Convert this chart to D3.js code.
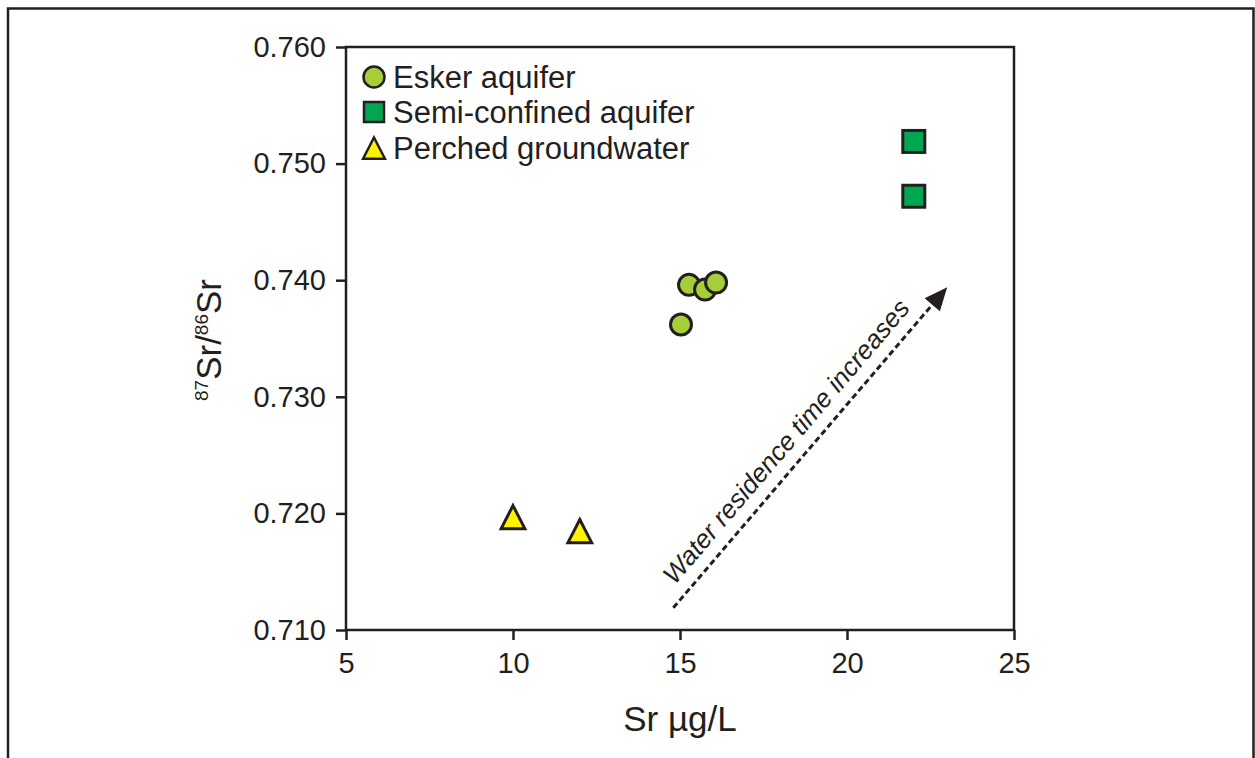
<!DOCTYPE html>
<html>
<head>
<meta charset="utf-8">
<script src="https://cdn.jsdelivr.net/npm/d3@7"></script>
<style>
  body { margin: 0; background: #fff; }
  text { font-family: Arial, "Liberation Sans", sans-serif; fill: #231f20; }
</style>
</head>
<body>
<svg id="chart" width="1255" height="758"></svg>
<script>
// data
var eskerSr = [15.03, 15.27, 15.75, 16.08];
var eskerRatio = [0.7362, 0.7396, 0.7392, 0.7398];
var semiSr = [22.0, 22.0];
var semiRatio = [0.7519, 0.7472];
var perchedSr = [10.0, 12.0];
var perchedRatio = [0.7196, 0.7184];

var xTicks = [5, 10, 15, 20, 25];
var yTicks = [0.710, 0.720, 0.730, 0.740, 0.750, 0.760];
var legendLabels = ['Esker aquifer', 'Semi-confined aquifer', 'Perched groundwater'];
// arrow from/to, in data units
var arrowFrom = [14.8, 0.7119];
var arrowTo = [23.0, 0.7394];

var ink = '#231f20';
var svg = d3.select('#chart');

// outer frame (open at the bottom)
svg.append('path')
  .attr('d', 'M8,758 V8.5 H1253.5 V758')
  .attr('fill', 'none').attr('stroke', ink).attr('stroke-width', 2.5);

var pLeft = 346, pRight = 1014, pTop = 47, pBottom = 630;
var x = d3.scaleLinear().domain([5, 25]).range([pLeft, pRight]);
var y = d3.scaleLinear().domain([0.710, 0.760]).range([pBottom, pTop]);

var g = svg.append('g');

// plot box
g.append('rect')
  .attr('x', pLeft).attr('y', pTop)
  .attr('width', pRight - pLeft).attr('height', pBottom - pTop)
  .attr('fill', 'none').attr('stroke', ink).attr('stroke-width', 2.5);

var xAxis = g.append('g')
  .attr('transform', 'translate(0,' + pBottom + ')')
  .call(d3.axisBottom(x).tickValues(xTicks).tickSize(10).tickPadding(12).tickFormat(d3.format('d')));
var yAxis = g.append('g')
  .attr('transform', 'translate(' + pLeft + ',0)')
  .call(d3.axisLeft(y).tickValues(yTicks).tickSize(10).tickPadding(10).tickFormat(d3.format('.3f')));

[xAxis, yAxis].forEach(function (a) {
  a.attr('font-size', null).attr('font-family', null);
  a.select('.domain').remove();
  a.selectAll('line').attr('stroke', ink).attr('stroke-width', 2.5);
  a.selectAll('text').style('font-size', '29px').attr('fill', ink);
});

// axis titles
g.append('text')
  .attr('x', (pLeft + pRight) / 2).attr('y', 731)
  .attr('text-anchor', 'middle').style('font-size', '35px')
  .text('Sr µg/L');

var yt = g.append('text')
  .attr('transform', 'translate(221,340) rotate(-90)')
  .attr('text-anchor', 'middle').style('font-size', '35px');
yt.append('tspan').attr('dy', '-13').style('font-size', '19px').text('87');
yt.append('tspan').attr('dy', '13').text('Sr/');
yt.append('tspan').attr('dy', '-13').style('font-size', '19px').text('86');
yt.append('tspan').attr('dy', '13').text('Sr');

// arrow
var ax1 = x(arrowFrom[0]), ay1 = y(arrowFrom[1]);
var ax2 = x(arrowTo[0]), ay2 = y(arrowTo[1]);
var ang = Math.atan2(ay2 - ay1, ax2 - ax1);
g.append('line')
  .attr('x1', ax1).attr('y1', ay1)
  .attr('x2', ax2 - 14 * Math.cos(ang)).attr('y2', ay2 - 14 * Math.sin(ang))
  .attr('stroke', ink).attr('stroke-width', 3).attr('stroke-dasharray', '6,3.5');
g.append('path')
  .attr('d', function () {
    var len = 23, half = 10;
    var bx = ax2 - len * Math.cos(ang), by = ay2 - len * Math.sin(ang);
    var px = -Math.sin(ang) * half, py = Math.cos(ang) * half;
    return 'M' + ax2 + ',' + ay2 + 'L' + (bx + px) + ',' + (by + py) + 'L' + (bx - px) + ',' + (by - py) + 'Z';
  })
  .attr('fill', ink);

var angDeg = ang * 180 / Math.PI;
var mx = (ax1 + ax2) / 2, my = (ay1 + ay2) / 2;
g.append('text')
  .attr('transform', 'translate(' + (mx - 16) + ',' + (my + 1) + ') rotate(' + angDeg + ')')
  .attr('text-anchor', 'middle')
  .attr('dy', '-2')
  .style('font-size', '26px').style('font-style', 'italic')
  .text('Water residence time increases');

// points
function pts(xs, ys) { return xs.map(function (d, i) { return [d, ys[i]]; }); }

g.selectAll('.esker').data(pts(eskerSr, eskerRatio)).enter()
  .append('circle').attr('class', 'esker')
  .attr('cx', function (d) { return x(d[0]); })
  .attr('cy', function (d) { return y(d[1]); })
  .attr('r', 10.5)
  .attr('fill', '#a6ce39').attr('stroke', ink).attr('stroke-width', 3);

g.selectAll('.semi').data(pts(semiSr, semiRatio)).enter()
  .append('rect').attr('class', 'semi')
  .attr('x', function (d) { return x(d[0]) - 11; })
  .attr('y', function (d) { return y(d[1]) - 11; })
  .attr('width', 22).attr('height', 22)
  .attr('fill', '#00a651').attr('stroke', ink).attr('stroke-width', 3);

var tri = function (cx, cy, s) {
  return 'M' + cx + ',' + (cy - s) + 'L' + (cx + s * 0.95) + ',' + (cy + s * 0.85) + 'L' + (cx - s * 0.95) + ',' + (cy + s * 0.85) + 'Z';
};
g.selectAll('.perched').data(pts(perchedSr, perchedRatio)).enter()
  .append('path').attr('class', 'perched')
  .attr('d', function (d) { return tri(x(d[0]), y(d[1]), 12.5); })
  .attr('fill', '#fff200').attr('stroke', ink).attr('stroke-width', 3);

// legend
var lg = g.append('g').attr('transform', 'translate(374,77)');
var rows = lg.selectAll('g').data(legendLabels).enter().append('g')
  .attr('transform', function (d, i) { return 'translate(0,' + [0, 35, 71][i] + ')'; });
rows.each(function (d, i) {
  var r = d3.select(this);
  if (i === 0) r.append('circle').attr('r', 10.5).attr('fill', '#a6ce39').attr('stroke', ink).attr('stroke-width', 2.5);
  if (i === 1) r.append('rect').attr('x', -10).attr('y', -10).attr('width', 20).attr('height', 20).attr('fill', '#00a651').attr('stroke', ink).attr('stroke-width', 2.5);
  if (i === 2) r.append('path').attr('d', tri(0, 1, 11.5)).attr('fill', '#fff200').attr('stroke', ink).attr('stroke-width', 2.5);
  r.append('text').attr('x', 19).attr('y', 10.5).style('font-size', '31px').text(d);
});
</script>
</body>
</html>
